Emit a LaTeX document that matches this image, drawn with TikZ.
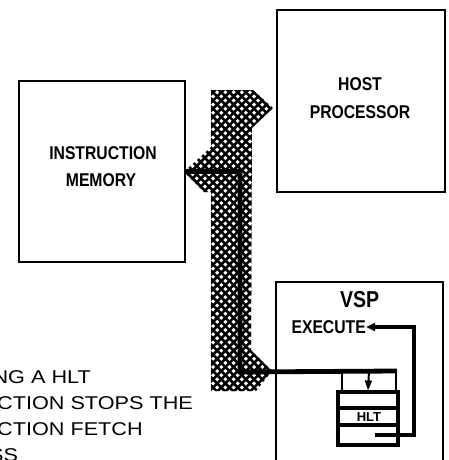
\documentclass[tikz,border=0pt]{standalone}
\usepackage{fontspec}
\newfontfamily\lblfont[FakeStretch=0.85]{Liberation Sans}
\newfontfamily\hltfont{Liberation Sans}
\newfontfamily\captfont[FakeStretch=1.17]{Liberation Sans}
\usetikzlibrary{arrows.meta}
\tikzset{
  box/.style={draw, line width=2.4pt, rectangle, inner sep=0},
  lbl/.style={font=\lblfont\bfseries\fontsize{18.5}{18.5}\selectfont, inner sep=0},
  biglbl/.style={font=\lblfont\bfseries\fontsize{23}{23}\selectfont, inner sep=0},
  hltlbl/.style={font=\hltfont\bfseries\fontsize{13}{13}\selectfont, inner sep=0},
  captxt/.style={font=\captfont\fontsize{18.5}{18.5}\selectfont, inner sep=0, anchor=base west},
  cell/.style={draw, line width=3.2pt, rectangle, inner sep=0},
  thincell/.style={draw, line width=2pt, rectangle, inner sep=0},
  busline/.style={line width=4.8pt},
  retline/.style={line width=3.2pt, -{Triangle[length=9pt,width=8pt]}},
  hatch/.style={line width=2.6pt}
}
\begin{document}
\begin{tikzpicture}[x=1pt,y=-1pt]
\useasboundingbox (0,0) rectangle (449,460);
\clip (0,0) rectangle (449,460);

% boxes
\node[box, minimum width=166pt, minimum height=181pt] (mem) at (102,171.5) {};
\node[box, minimum width=168pt, minimum height=182pt] (host) at (361,101) {};
\node[box, minimum width=167pt, minimum height=198pt] (vsp) at (359.5,381) {};

% labels
\node[lbl] (instr) at (103,153.5) {INSTRUCTION};
\node[lbl] (memory) at (101,180) {MEMORY};
\node[lbl] (hostl) at (360,84) {HOST};
\node[lbl] (proc) at (360,112) {PROCESSOR};
\node[biglbl] (vspl) at (359.6,300) {VSP};
\node[lbl, anchor=east] (exec) at (366,327) {EXECUTE};

% hatched bus
\begin{scope}
  \clip (211,90) -- (253,90) -- (273,108) -- (252,128) -- (251,350) -- (272,371)
        -- (256,391) -- (211,391) -- (211,192) -- (204,192) -- (184,172) -- (211,147) -- cycle;
  \foreach \i in {0,...,95} {
    \draw[hatch] (-160+\i*8.2,80) -- ++(330,330);
    \draw[hatch] (-160+\i*8.2,80) -- ++(-330,330);
  }
\end{scope}

% instruction register stack
\node[thincell, minimum width=54pt, minimum height=19pt] (topcell) at (369,381.5) {};
\node[cell, minimum width=60pt, minimum height=16pt] (row1) at (368,400) {};
\node[cell, minimum width=60pt, minimum height=17pt] (row2) at (368,416.5) {};
\node[cell, minimum width=60pt, minimum height=20pt] (row3) at (368,435) {};
\node[hltlbl] (hlt) at (369,417) {HLT};

% fetch path
\coordinate (c1) at (240,171.5);
\coordinate (c2) at (240,372);
\draw[busline] (mem.east) -- (c1) -- (c2) -- (topcell.north east);
\draw[line width=2pt, -{Triangle[length=10pt,width=7pt]}] (topcell.north) -- (row1.north);

% return path
\coordinate (r0) at (375,435);
\coordinate (r1) at (414,435);
\coordinate (r2) at (414,327);
\draw[retline] (r0) -- (r1) -- (r2) -- (exec.east);

% caption fragment
\node[captxt] (t1) at (-7.6,383) {NG A HLT};
\node[captxt] (t2) at (-3,409) {CTION STOPS THE};
\node[captxt] (t3) at (-3,435) {CTION FETCH};
\node[captxt] (t4) at (-11,461) {SS};
\end{tikzpicture}
\end{document}
